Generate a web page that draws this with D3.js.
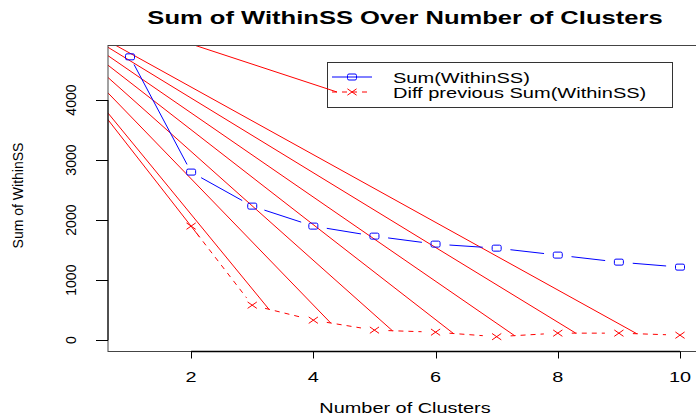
<!DOCTYPE html>
<html>
<head>
<meta charset="utf-8">
<script src="https://cdn.jsdelivr.net/npm/d3@7"></script>
<title>Sum of WithinSS Over Number of Clusters</title>
<style>
body { margin: 0; background: #fff; }
svg { display: block; }
text { font-family: "Liberation Sans", Arial, Helvetica, sans-serif; fill: #000; }
</style>
</head>
<body>
<svg id="svg" width="696" height="419"></svg>
<script>

// values
const clusters = [1, 2, 3, 4, 5, 6, 7, 8, 9, 10];
const withinSS = [4720, 2800, 2233, 1900, 1733, 1600, 1533, 1417, 1300, 1217];
const diffClusters = [2, 3, 4, 5, 6, 7, 8, 9, 10];
const diffWithinSS = [1900, 583, 333, 167, 133, 58, 117, 117, 83];
const xTicks = [2, 4, 6, 8, 10];
const yTicks = [0, 1000, 2000, 3000, 4000];
const legendLabels = ["Sum(WithinSS)", "Diff previous Sum(WithinSS)"];
// the point every stray red stroke starts from (data units, off the plot)
const strayOrigin = [-1.13, 5980];

const margin = {left: 108, top: 45.5, right: 702, bottom: 351.5};
const textStretch = 1.42; // the picture is wider than tall, text included
const gapStretch = 1.75;  // point gaps of type="b" are wider sideways

let svg = d3.select("svg");

// R style axis limits: data range widened by 4%
let xExt = d3.extent(clusters), xPad = (xExt[1] - xExt[0]) * 0.04;
let x = d3.scaleLinear().domain([xExt[0] - xPad, xExt[1] + xPad]).range([margin.left, margin.right]);
let yMax = d3.max(withinSS), yPad = yMax * 0.04;
let y = d3.scaleLinear().domain([0 - yPad, yMax + yPad]).range([margin.bottom, margin.top]);

function stretch(sel, f) {
  sel.each(function() {
    let w = this.getComputedTextLength();
    this.setAttribute("textLength", w * f);
    this.setAttribute("lengthAdjust", "spacingAndGlyphs");
  });
}

// point a moved g units towards b, gap measured in the unstretched picture
function gapPoint(a, b, g) {
  let dx = (b[0] - a[0]) / gapStretch, dy = b[1] - a[1];
  let L = Math.hypot(dx, dy);
  return [a[0] + g * dx / L * gapStretch, a[1] + g * dy / L];
}

function along(a, b, d) {
  let dx = b[0] - a[0], dy = b[1] - a[1], L = Math.hypot(dx, dy);
  return [a[0] + d * dx / L, a[1] + d * dy / L];
}

svg.append("clipPath").attr("id", "plotClip")
  .append("rect")
  .attr("x", margin.left).attr("y", margin.top)
  .attr("width", margin.right - margin.left).attr("height", margin.bottom - margin.top);

let plot = svg.append("g").attr("clip-path", "url(#plotClip)");
let origin = [x(strayOrigin[0]), y(strayOrigin[1])];

let bluePts = clusters.map((c, i) => [x(c), y(withinSS[i])]);
let redPts = diffClusters.map((c, i) => [x(c), y(diffWithinSS[i])]);

// red dashed series, each segment with its stray stroke
for (let i = 0; i < redPts.length - 1; i++) {
  let s = gapPoint(redPts[i], redPts[i + 1], 8);
  let e = gapPoint(redPts[i + 1], redPts[i], 8);
  plot.append("line")
    .attr("x1", s[0]).attr("y1", s[1]).attr("x2", e[0]).attr("y2", e[1])
    .attr("stroke", "#ff0000").attr("stroke-width", 1)
    .attr("stroke-dasharray", "5,5");
  let f = along(s, e, 4);
  plot.append("line")
    .attr("x1", origin[0]).attr("y1", origin[1]).attr("x2", f[0]).attr("y2", f[1])
    .attr("stroke", "#ff0000").attr("stroke-width", 1);
}

plot.selectAll(".xmark").data(redPts).enter().append("path")
  .attr("class", "xmark")
  .attr("d", d => `M${d[0]-4.6},${d[1]-3.2}L${d[0]+4.6},${d[1]+3.2}M${d[0]-4.6},${d[1]+3.2}L${d[0]+4.6},${d[1]-3.2}`)
  .attr("stroke", "#ff0000").attr("stroke-width", 1).attr("fill", "none");

// blue series
for (let i = 0; i < bluePts.length - 1; i++) {
  let s = gapPoint(bluePts[i], bluePts[i + 1], 8);
  let e = gapPoint(bluePts[i + 1], bluePts[i], 8);
  plot.append("line")
    .attr("x1", s[0]).attr("y1", s[1]).attr("x2", e[0]).attr("y2", e[1])
    .attr("stroke", "#0000ff").attr("stroke-width", 1);
}

plot.selectAll(".sq").data(bluePts).enter().append("rect")
  .attr("class", "sq")
  .attr("x", d => d[0] - 4.5).attr("y", d => d[1] - 3)
  .attr("width", 9).attr("height", 6).attr("rx", 1.5)
  .attr("fill", "none").attr("stroke", "#0000ff").attr("stroke-width", 1);

// legend
let lg = plot.append("g");
lg.append("rect").attr("x", 327.5).attr("y", 62.5).attr("width", 345).attr("height", 45)
  .attr("fill", "#fff").attr("stroke", "#333").attr("stroke-width", 1);
lg.append("line").attr("x1", 332).attr("x2", 372).attr("y1", 77).attr("y2", 77)
  .attr("stroke", "#0000ff");
lg.append("rect").attr("x", 352 - 4.5).attr("y", 77 - 3).attr("width", 9).attr("height", 6)
  .attr("rx", 1.5).attr("fill", "none").attr("stroke", "#0000ff");
lg.append("line").attr("x1", 332).attr("x2", 372).attr("y1", 92).attr("y2", 92)
  .attr("stroke", "#ff0000").attr("stroke-dasharray", "5,5");
lg.append("line").attr("x1", origin[0]).attr("y1", origin[1]).attr("x2", 337).attr("y2", 92)
  .attr("stroke", "#ff0000");
lg.append("path")
  .attr("d", `M${352-4.6},${92-3.2}L${352+4.6},${92+3.2}M${352-4.6},${92+3.2}L${352+4.6},${92-3.2}`)
  .attr("stroke", "#ff0000").attr("fill", "none");
let lgText = lg.selectAll(".lgt").data(legendLabels).enter().append("text")
  .attr("class", "lgt")
  .attr("x", 393).attr("y", (d, i) => 82.5 + i * 15.5)
  .attr("font-size", 14)
  .text(d => d);
stretch(lgText, 1.43);

// box
svg.append("rect")
  .attr("x", margin.left).attr("y", margin.top)
  .attr("width", margin.right - margin.left).attr("height", margin.bottom - margin.top)
  .attr("fill", "none").attr("stroke", "#444").attr("stroke-width", 1);

// x axis
let xAxis = svg.append("g");
xAxis.append("line").attr("x1", x(xTicks[0])).attr("x2", x(xTicks[xTicks.length - 1]))
  .attr("y1", margin.bottom).attr("y2", margin.bottom).attr("stroke", "#000").attr("stroke-width", 1.5);
xAxis.selectAll(".xt").data(xTicks).enter().append("line")
  .attr("x1", d => Math.round(x(d)) + 0.5).attr("x2", d => Math.round(x(d)) + 0.5)
  .attr("y1", margin.bottom).attr("y2", margin.bottom + 7)
  .attr("stroke", "#000");
let xLab = xAxis.selectAll(".xl").data(xTicks).enter().append("text")
  .attr("x", d => x(d)).attr("y", 382)
  .attr("text-anchor", "middle").attr("font-size", 14)
  .text(d => d);
stretch(xLab, textStretch);

// y axis
let yAxis = svg.append("g");
yAxis.append("line").attr("x1", margin.left).attr("x2", margin.left)
  .attr("y1", y(yTicks[0])).attr("y2", y(yTicks[yTicks.length - 1])).attr("stroke", "#000");
yAxis.selectAll(".yt").data(yTicks).enter().append("line")
  .attr("x1", margin.left - 12).attr("x2", margin.left)
  .attr("y1", d => Math.round(y(d)) + 0.5).attr("y2", d => Math.round(y(d)) + 0.5)
  .attr("stroke", "#000");
yAxis.selectAll(".yl").data(yTicks).enter().append("text")
  .attr("transform", d => `translate(75.5,${y(d)}) rotate(-90)`)
  .attr("text-anchor", "middle").attr("font-size", 14)
  .text(d => d);

// titles
let title = svg.append("text")
  .attr("x", (margin.left + margin.right) / 2).attr("y", 24)
  .attr("text-anchor", "middle").attr("font-size", 18).attr("font-weight", "bold")
  .text("Sum of WithinSS Over Number of Clusters");
stretch(title, textStretch);

let xTitle = svg.append("text")
  .attr("x", (margin.left + margin.right) / 2).attr("y", 412.5)
  .attr("text-anchor", "middle").attr("font-size", 14)
  .text("Number of Clusters");
stretch(xTitle, textStretch);

svg.append("text")
  .attr("transform", `translate(23,${(margin.top + margin.bottom) / 2 - 3}) rotate(-90)`)
  .attr("text-anchor", "middle").attr("font-size", 14)
  .text("Sum of WithinSS");

</script>
</body>
</html>
